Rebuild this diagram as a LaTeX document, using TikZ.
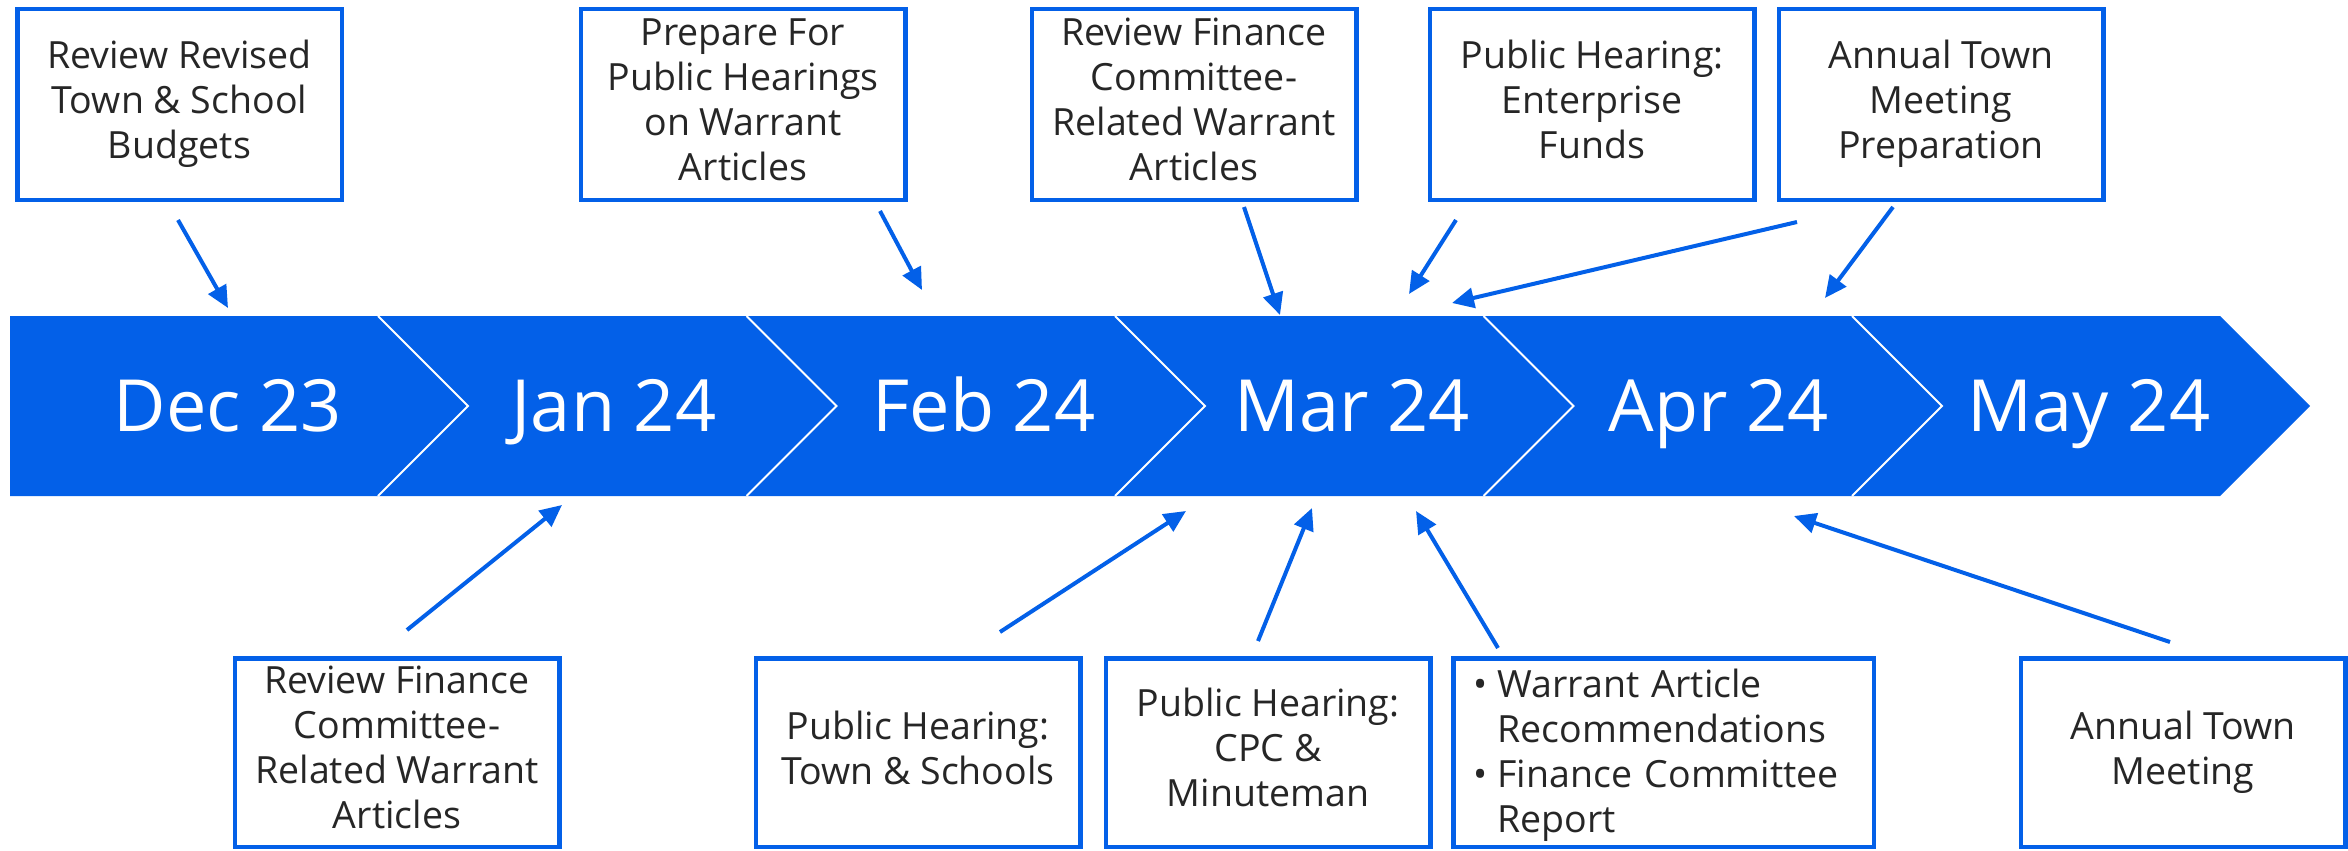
\documentclass[tikz,border=0pt]{standalone}
\usepackage{fontspec}
\setmainfont{Open Sans}
\usetikzlibrary{arrows.meta}

\definecolor{azul}{RGB}{3,96,232}
\definecolor{texto}{RGB}{38,38,38}

\newcommand{\puntal}{\rule[-10pt]{0pt}{45pt}}
\newcommand{\vineta}{\textbullet\hspace{10pt}}
\newcommand{\sangria}{\phantom{\textbullet}\hspace{10pt}}

\tikzset{
  caja/.style={draw=azul, line width=4.5pt, fill=white, text=texto, align=center,
    minimum width=324.5pt, minimum height=190.5pt, inner sep=0pt,
    font=\fontsize{37.5}{45}\selectfont,
    execute at begin node=\puntal, execute at end node=\puntal},
  mes/.style={text=white, anchor=base, font=\fontsize{72}{86}\selectfont},
  flecha/.style={azul, line width=4pt, -{Triangle[length=22pt,width=20pt]}}
}

\begin{document}
\begin{tikzpicture}[x=1pt,y=-1pt]
        \useasboundingbox (0,0) rectangle (2348,851);

        %La banda de los meses
        \fill[azul] (10,316) -- (2220,316) -- (2310,406) -- (2220,496) -- (10,496) -- cycle;
        \foreach \s in {378,746.5,1115,1483.5,1852}
            \draw[white, line width=2pt] (\s,316) -- (\s+90,406) -- (\s,496);

        \node[mes] (dic) at (228,431) {Dec 23};
        \node[mes] (ene) at (614,431) {Jan 24};
        \node[mes] (feb) at (984,431) {Feb 24};
        \node[mes] (mar) at (1352,431) {Mar 24};
        \node[mes] (abr) at (1719,431) {Apr 24};
        \node[mes] (may) at (2089,431) {May 24};

        %Cajas de arriba
        \node[caja] (presup) at (179.5,104.5) {Review Revised\\Town \& School\\Budgets};
        \node[caja] (prepara) at (743,104.5) {Prepare For\\Public Hearings\\on Warrant\\Articles};
        \node[caja] (finarriba) at (1194,104.5) {Review Finance\\Committee-\\Related Warrant\\Articles};
        \node[caja] (empresa) at (1592,104.5) {Public Hearing:\\Enterprise\\Funds};
        \node[caja] (prepreunion) at (1941,104.5) {Annual Town\\Meeting\\Preparation};

        %Cajas de abajo
        \node[caja, minimum height=188.5pt] (finabajo) at (397,752.5) {Review Finance\\Committee-\\Related Warrant\\Articles};
        \node[caja, minimum height=188.5pt] (escuelas) at (918,752.5) {Public Hearing:\\Town \& Schools};
        \node[caja, minimum height=188.5pt] (cpc) at (1268,752.5) {Public Hearing:\\CPC \&\\Minuteman};
        \node[caja, minimum height=188.5pt, minimum width=420.5pt, text width=380pt, inner xsep=20pt, align=left] (informe) at (1663.5,752.5)
            {\vineta Warrant Article\\\sangria Recommendations\\\vineta Finance Committee\\\sangria Report};
        \node[caja, minimum height=188.5pt] (reunion) at (2183,752.5) {Annual Town\\Meeting};

        %Puntos de las flechas
        \coordinate (c1) at (178,220);  \coordinate (p1) at (228,308);
        \coordinate (c2) at (880,211);  \coordinate (p2) at (922,290);
        \coordinate (c3) at (1244,207); \coordinate (p3) at (1280,315);
        \coordinate (c4) at (1456,220); \coordinate (p4) at (1409,294);
        \coordinate (c5) at (1797,222); \coordinate (p5) at (1452,303);
        \coordinate (c6) at (1893,207); \coordinate (p6) at (1825,298);
        \coordinate (c7) at (407,630);  \coordinate (p7) at (562,505);
        \coordinate (c8) at (1000,632); \coordinate (p8) at (1186,511);
        \coordinate (c9) at (1258,641); \coordinate (p9) at (1312,508);
        \coordinate (c10) at (1498,648); \coordinate (p10) at (1416,511);
        \coordinate (c11) at (2170,642); \coordinate (p11) at (1794,516);

        \foreach \i in {1,...,11}
            \draw[flecha] (c\i) -- (p\i);
    \end{tikzpicture}
\end{document}
